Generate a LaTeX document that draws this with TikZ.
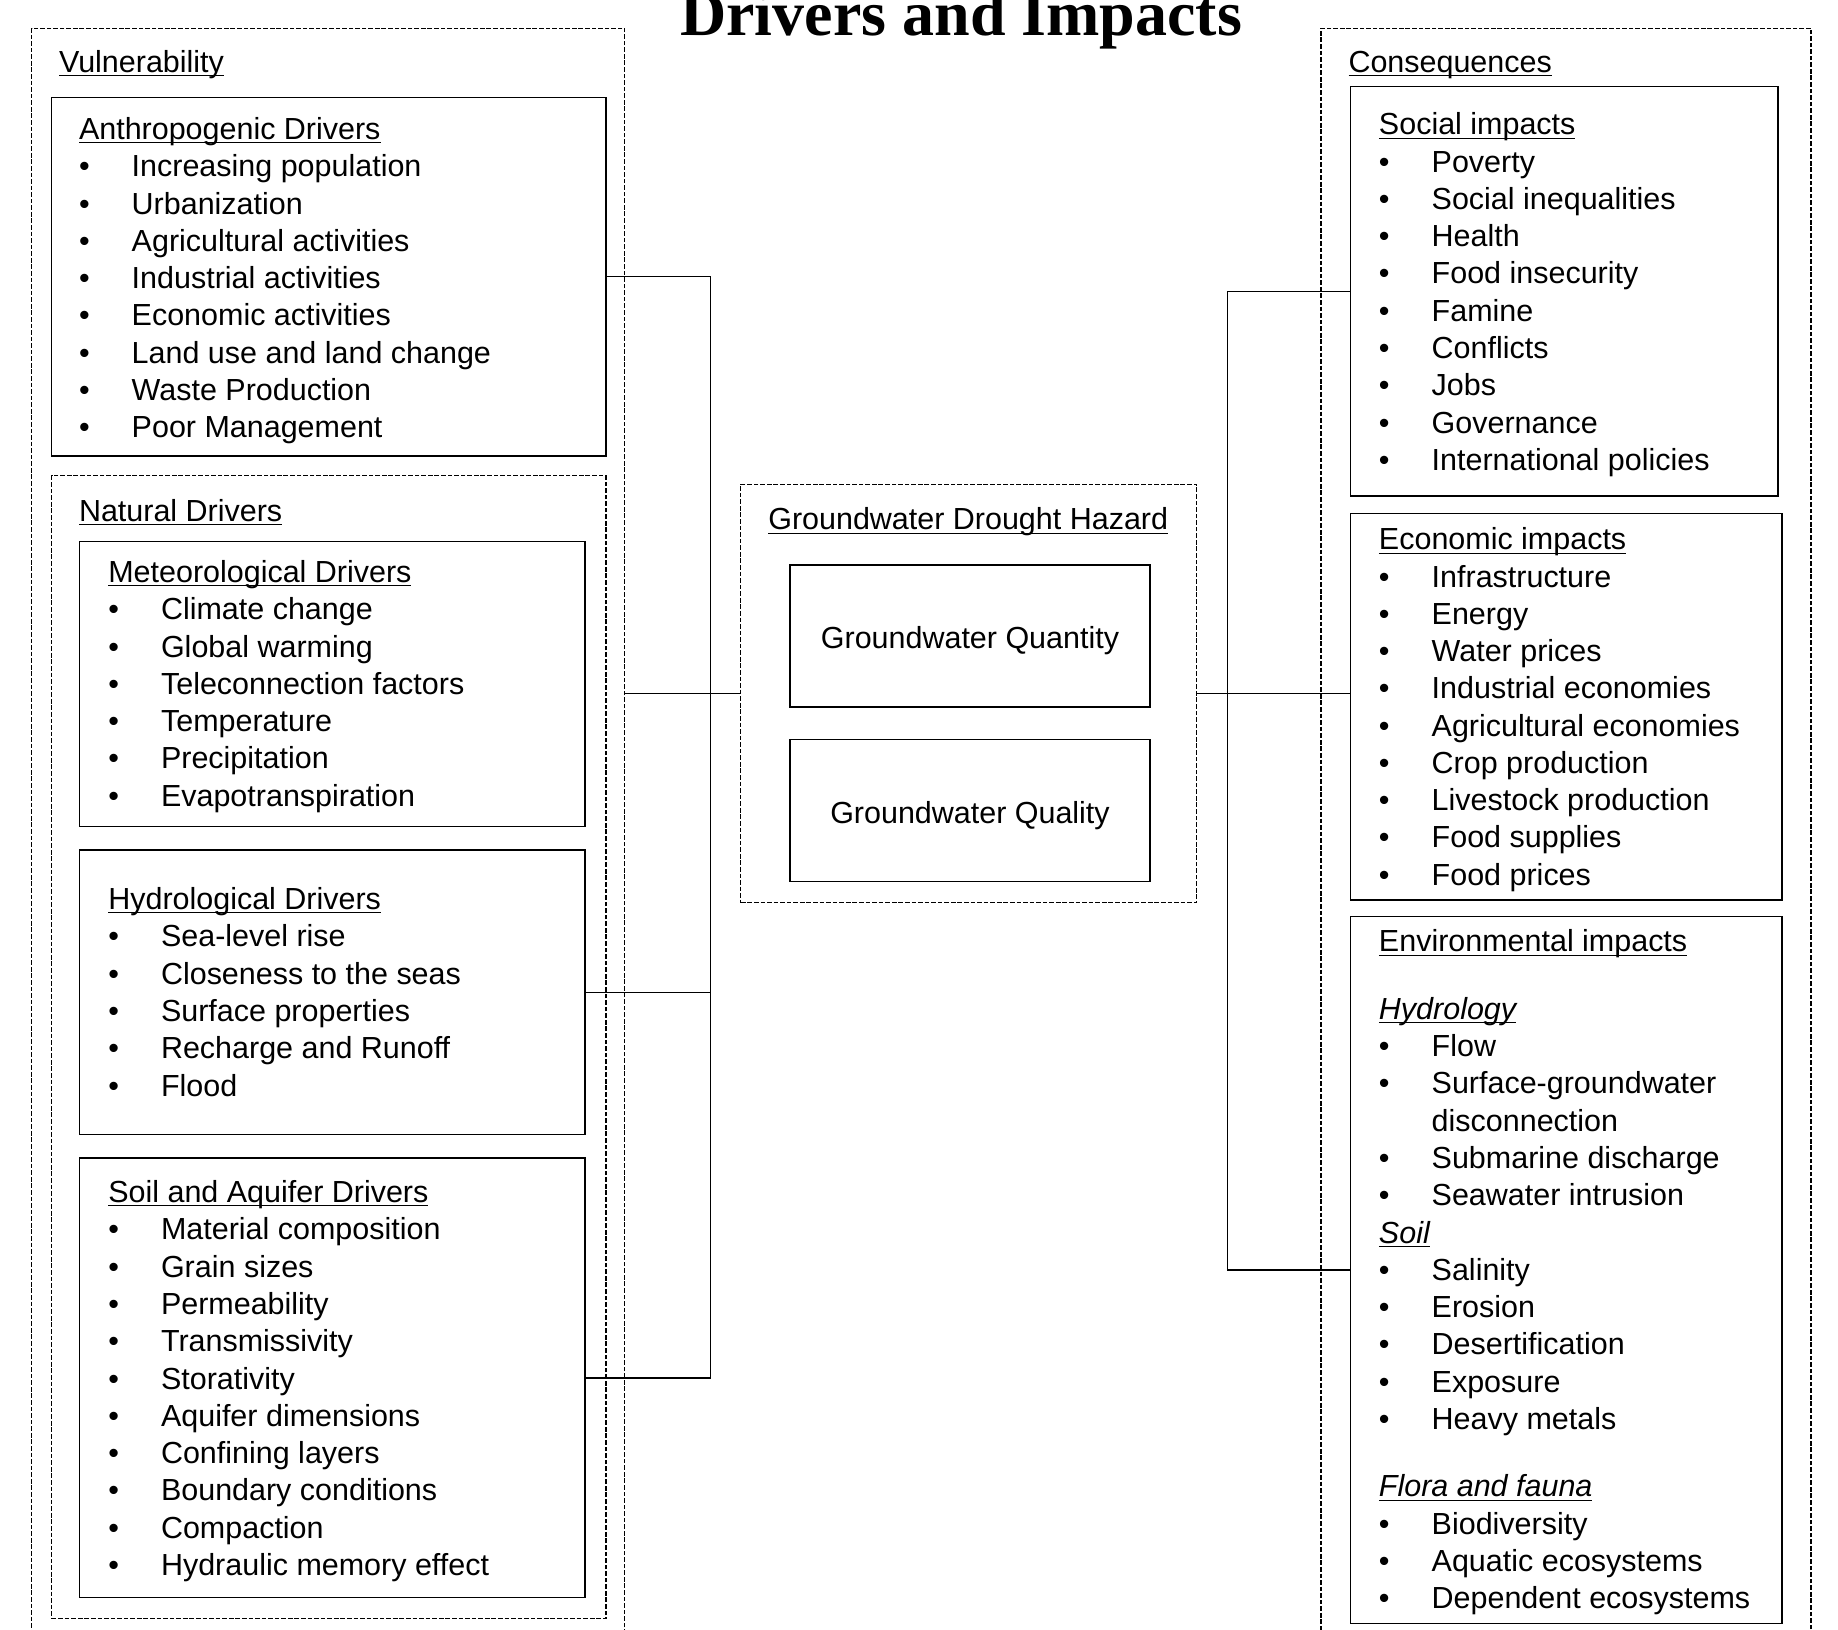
\documentclass[tikz,border=0pt]{standalone}
\usepackage{fontspec}
\setmainfont{Liberation Sans}
\newfontfamily\titlefont{Liberation Serif}
\usetikzlibrary{fit}

\newcommand{\hdr}[1]{\underline{\smash{#1}}}
\newcommand{\itm}[1]{\textbullet & #1\\}
\newcommand{\grp}[1]{\multicolumn{2}{@{}l@{}}{\hdr{#1}}\\}

\tikzset{
	solidbox/.style={draw, line width=0.65pt, inner sep=0pt},
	dashbox/.style={draw, line width=0.5pt, dash pattern=on 2pt off 0.8pt, inner sep=0pt},
	wire/.style={draw, line width=0.6pt},
	caption/.style={anchor=base west, inner sep=0pt, font=\fontsize{13}{15.9}\selectfont},
	items/.style={anchor=base west, inner sep=0pt, font=\fontsize{13}{15.9}\selectfont},
	boxtext/.style={inner sep=0pt, yshift=-2pt, font=\fontsize{13}{15.9}\selectfont}
}

\begin{document}
\begin{tikzpicture}[x=0.5pt,y=-0.5pt]
		\useasboundingbox (0,0) rectangle (1568,1390);
		\clip (0,0) rectangle (1568,1390);
		\node[anchor=base, inner sep=0pt, font=\titlefont\bfseries\fontsize{27.3}{30}\selectfont] (title) at (820,30) {Drivers and Impacts};

		% outer groups
		\node[dashbox, fit={(27,24) (533,1420)}] (vuln) {};
		\node[dashbox, fit={(1127,24) (1545,1420)}] (cons) {};
		\node[caption] (vulnT) at (50,62) {\hdr{Vulnerability}};
		\node[caption] (consT) at (1150,62) {\hdr{Consequences}};

		% drivers
		\node[solidbox, fit={(44,83) (517,389)}] (anthro) {};
		\node[dashbox, fit={(44,406) (517,1381)}] (natural) {};
		\node[caption] (naturalT) at (67,445) {\hdr{Natural Drivers}};
		\node[solidbox, fit={(68,462) (499,705)}] (meteo) {};
		\node[solidbox, fit={(68,725) (499,968)}] (hydro) {};
		\node[solidbox, fit={(68,988) (499,1363)}] (soil) {};

		\node[items] (anthroL) at (67,119) {\begin{tabular}[t]{@{}p{22.5pt}@{}l@{}}
			\grp{Anthropogenic Drivers}
			\itm{Increasing population}
			\itm{Urbanization}
			\itm{Agricultural activities}
			\itm{Industrial activities}
			\itm{Economic activities}
			\itm{Land use and land change}
			\itm{Waste Production}
			\itm{Poor Management}
		\end{tabular}};
		\node[items] (meteoL) at (92,497) {\begin{tabular}[t]{@{}p{22.5pt}@{}l@{}}
			\grp{Meteorological Drivers}
			\itm{Climate change}
			\itm{Global warming}
			\itm{Teleconnection factors}
			\itm{Temperature}
			\itm{Precipitation}
			\itm{Evapotranspiration}
		\end{tabular}};
		\node[items] (hydroL) at (92,776) {\begin{tabular}[t]{@{}p{22.5pt}@{}l@{}}
			\grp{Hydrological Drivers}
			\itm{Sea-level rise}
			\itm{Closeness to the seas}
			\itm{Surface properties}
			\itm{Recharge and Runoff}
			\itm{Flood}
		\end{tabular}};
		\node[items] (soilL) at (92,1026) {\begin{tabular}[t]{@{}p{22.5pt}@{}l@{}}
			\grp{Soil and Aquifer Drivers}
			\itm{Material composition}
			\itm{Grain sizes}
			\itm{Permeability}
			\itm{Transmissivity}
			\itm{Storativity}
			\itm{Aquifer dimensions}
			\itm{Confining layers}
			\itm{Boundary conditions}
			\itm{Compaction}
			\itm{Hydraulic memory effect}
		\end{tabular}};

		% hazard
		\node[dashbox, fit={(632,413) (1021,770)}] (hazard) {};
		\node[anchor=base, inner sep=0pt, font=\fontsize{13}{15.9}\selectfont] (hazardT) at (826,452) {\hdr{Groundwater Drought Hazard}};
		\node[solidbox, fit={(674,482) (981,603)}] (quantity) {};
		\node[solidbox, fit={(674,631) (981,752)}] (quality) {};
		\node[boxtext] (quantityT) at (quantity.center) {Groundwater Quantity};
		\node[boxtext] (qualityT) at (quality.center) {Groundwater Quality};

		% impacts
		\node[solidbox, fit={(1152,74) (1517,423)}] (social) {};
		\node[solidbox, fit={(1152,438) (1520,768)}] (econ) {};
		\node[solidbox, fit={(1152,782) (1520,1385)}] (env) {};

		\node[items] (socialL) at (1176,115) {\begin{tabular}[t]{@{}p{22.5pt}@{}l@{}}
			\grp{Social impacts}
			\itm{Poverty}
			\itm{Social inequalities}
			\itm{Health}
			\itm{Food insecurity}
			\itm{Famine}
			\itm{Conflicts}
			\itm{Jobs}
			\itm{Governance}
			\itm{International policies}
		\end{tabular}};
		\node[items] (econL) at (1176,469) {\begin{tabular}[t]{@{}p{22.5pt}@{}l@{}}
			\grp{Economic impacts}
			\itm{Infrastructure}
			\itm{Energy}
			\itm{Water prices}
			\itm{Industrial economies}
			\itm{Agricultural economies}
			\itm{Crop production}
			\itm{Livestock production}
			\itm{Food supplies}
			\itm{Food prices}
		\end{tabular}};
		\node[items] (envL) at (1176,812) {\begin{tabular}[t]{@{}p{22.5pt}@{}l@{}}
			\grp{Environmental impacts}
			\\[-3pt]
			\grp{\itshape Hydrology}
			\itm{Flow}
			\itm{Surface-groundwater}
			& disconnection\\
			\itm{Submarine discharge}
			\itm{Seawater intrusion}
			\grp{\itshape Soil}
			\itm{Salinity}
			\itm{Erosion}
			\itm{Desertification}
			\itm{Exposure}
			\itm{Heavy metals}
			\\[-3pt]
			\grp{\itshape Flora and fauna}
			\itm{Biodiversity}
			\itm{Aquatic ecosystems}
			\itm{Dependent ecosystems}
		\end{tabular}};

		% connectors
		\coordinate (busL) at (606,0);
		\coordinate (busR) at (1047,0);
		\path [wire] (anthro.east) -- (anthro.east -| busL) -- (soil.east -| busL) -- (soil.east);
		\path [wire] (hydro.east) -- (hydro.east -| busL);
		\path [wire] (vuln.east |- hazard.west) -- (hazard.west);
		\path [wire] (hazard.east) -- (hazard.east -| econ.west);
		\path [wire] (social.west) -- (social.west -| busR) -- (env.west -| busR) -- (env.west);
	\end{tikzpicture}
\end{document}
